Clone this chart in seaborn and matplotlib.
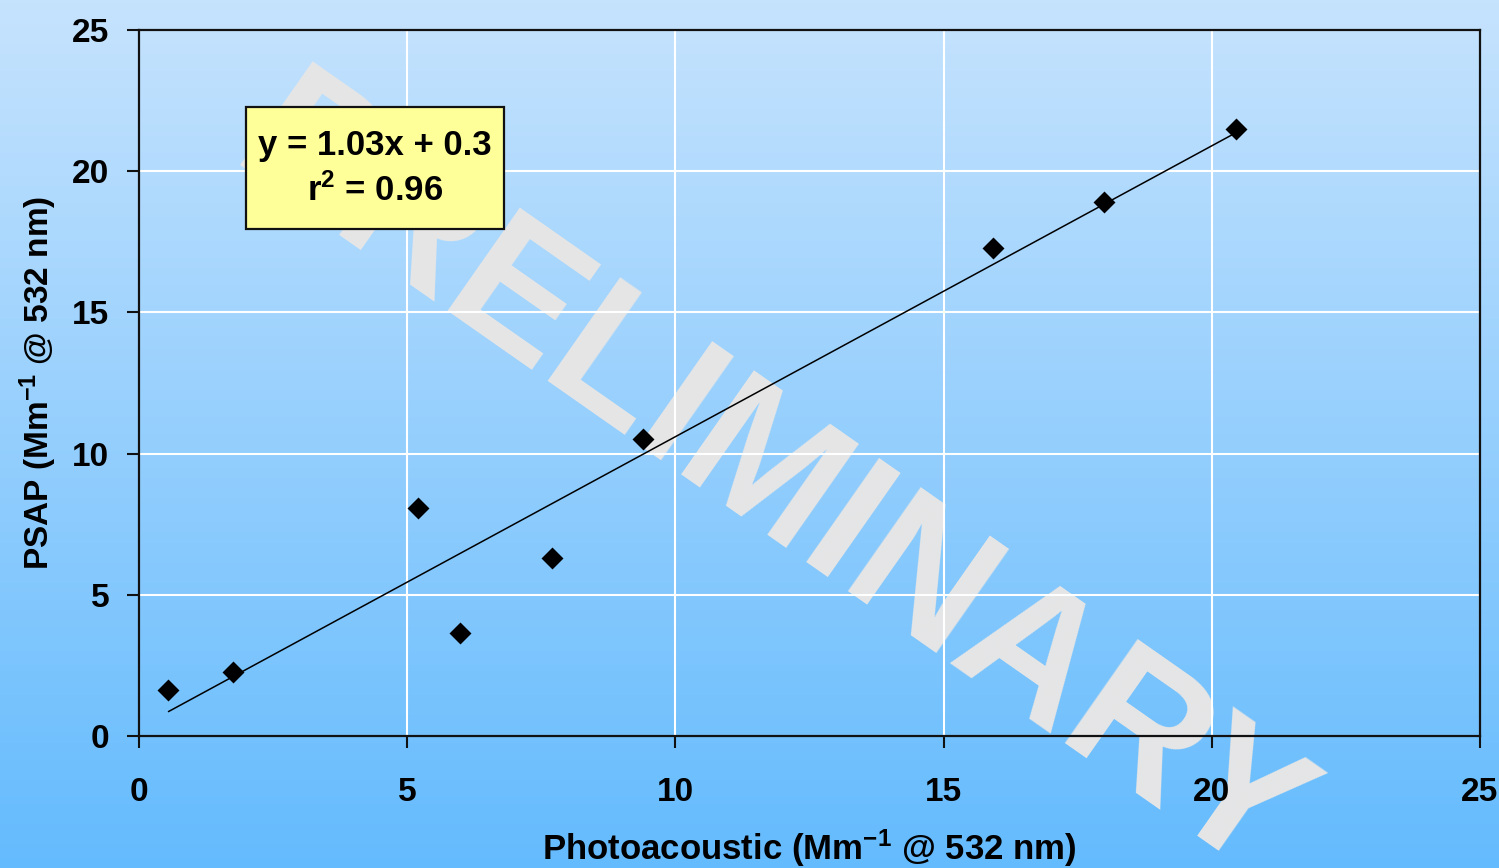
import numpy as np
import pandas as pd
import matplotlib
matplotlib.use("Agg")
import matplotlib.pyplot as plt
from matplotlib.colors import LinearSegmentedColormap
from matplotlib.patches import Rectangle
import seaborn as sns

# Absorption measurements at 532 nm (Mm^-1)
photoacoustic = [0.55, 1.75, 5.2, 5.98, 7.7, 9.4, 15.92, 17.99, 20.45]
psap = [1.63, 2.27, 8.07, 3.65, 6.3, 10.52, 17.28, 18.91, 21.49]

# Linear fit reported on the chart
slope = 1.03
intercept = 0.3
r_squared = 0.96

axis_ticks = [0, 5, 10, 15, 20, 25]

sns.set_style("white")
plt.rcParams["font.family"] = ["Liberation Sans", "DejaVu Sans"]
plt.rcParams["font.weight"] = "bold"
plt.rcParams["axes.labelweight"] = "bold"
plt.rcParams["text.color"] = "black"
plt.rcParams["axes.labelcolor"] = "black"
plt.rcParams["mathtext.fontset"] = "custom"
plt.rcParams["mathtext.rm"] = "Liberation Sans:bold"
plt.rcParams["mathtext.bf"] = "Liberation Sans:bold"
plt.rcParams["mathtext.default"] = "regular"

fig = plt.figure(figsize=(14.99, 8.68), dpi=100)

# Vertical gradient backdrop
bg = fig.add_axes([0, 0, 1, 1], zorder=-2)
grad_cmap = LinearSegmentedColormap.from_list("sky", ["#64bbfd", "#c6e3fd"])
bg.imshow(np.linspace(0, 1, 256).reshape(-1, 1), aspect="auto", cmap=grad_cmap,
          origin="lower", extent=[0, 1, 0, 1])
bg.set_axis_off()

# Watermark
fig.text(0.513, 0.44, "PRELIMINARY", rotation=-35, rotation_mode="anchor",
         ha="center", va="center", fontsize=132, fontweight="bold",
         color="#e6e6e6", zorder=-1)

ax = fig.add_axes([0.0927, 0.152, 0.8946, 0.8134], zorder=0)
ax.set_facecolor("none")

df = pd.DataFrame({"Photoacoustic": photoacoustic, "PSAP": psap})

# Trend line from the reported fit across the data range
x_fit = [min(photoacoustic), max(photoacoustic)]
fit_df = pd.DataFrame({"x": x_fit, "y": [slope * v + intercept for v in x_fit]})
sns.lineplot(data=fit_df, x="x", y="y", ax=ax, color="black", linewidth=1.1, zorder=3)

sns.scatterplot(data=df, x="Photoacoustic", y="PSAP", ax=ax, marker="D",
                color="black", s=125, linewidth=0, zorder=4)

ax.set_xlim(0, 25)
ax.set_ylim(0, 25)
ax.set_xticks(axis_ticks)
ax.set_yticks(axis_ticks)
ax.grid(True, color="white", linewidth=1.5)
ax.set_axisbelow(True)
for s in ax.spines.values():
    s.set_color("#111111")
    s.set_linewidth(1.6)

ax.tick_params(axis="both", direction="out", length=8.5, width=1.5, color="#111111",
               labelsize=24, labelcolor="black")
ax.tick_params(axis="x", pad=21, bottom=True)
ax.tick_params(axis="y", pad=13, left=True)

ax.set_xlabel("Photoacoustic (Mm$^{-1}$ @ 532 nm)", fontsize=25, fontweight="bold",
              labelpad=14)
ax.set_ylabel("PSAP (Mm$^{-1}$ @ 532 nm)", fontsize=24, fontweight="bold", labelpad=9)

# Fit summary box
ax.add_patch(Rectangle((0.0798, 0.718), 0.1924, 0.173, transform=ax.transAxes,
                       facecolor="#ffff99", edgecolor="#111111", linewidth=1.6,
                       zorder=5))
ax.text(0.176, 0.8045, f"y = {slope:.2f}x + {intercept:.1f}\nr$^2$ = {r_squared:.2f}",
        transform=ax.transAxes, ha="center", va="center", multialignment="center",
        fontsize=25, fontweight="bold", linespacing=1.4, zorder=6)

fig.savefig("out.png", dpi=100)
